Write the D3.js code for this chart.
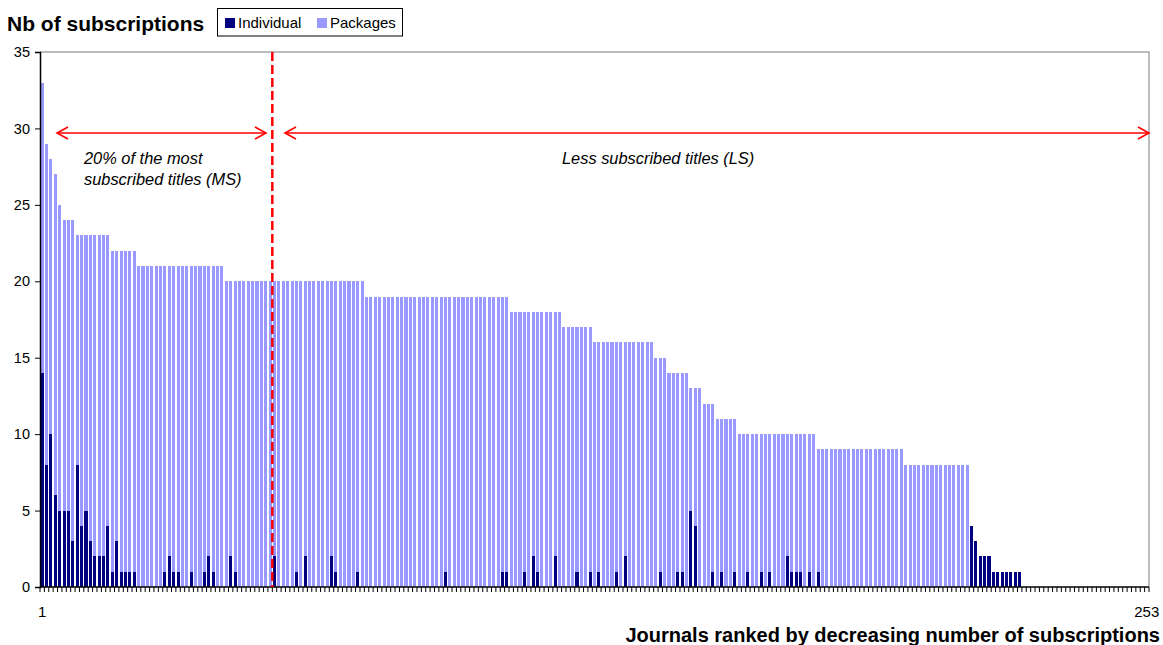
<!DOCTYPE html>
<html>
<head>
<meta charset="utf-8">
<script src="https://cdn.jsdelivr.net/npm/d3@7"></script>
<style>
  html, body { margin: 0; padding: 0; background: #fff; }
  svg { display: block; font-family: Arial, "Liberation Sans", sans-serif; }
</style>
</head>
<body>
<svg id="chart" width="1163" height="645"></svg>
<script>
// ---- DATA ----
const journalCount = 253;
const xTickLabels = ["1", "253"];
const yTicks = [0, 5, 10, 15, 20, 25, 30, 35];
const seriesNames = ["Individual", "Packages"];

const packages = [
  33, 29, 28, 27, 25, 24, 24, 24, 23, 23,
  23, 23, 23, 23, 23, 23, 22, 22, 22, 22,
  22, 22, 21, 21, 21, 21, 21, 21, 21, 21,
  21, 21, 21, 21, 21, 21, 21, 21, 21, 21,
  21, 21, 20, 20, 20, 20, 20, 20, 20, 20,
  20, 20, 20, 20, 20, 20, 20, 20, 20, 20,
  20, 20, 20, 20, 20, 20, 20, 20, 20, 20,
  20, 20, 20, 20, 19, 19, 19, 19, 19, 19,
  19, 19, 19, 19, 19, 19, 19, 19, 19, 19,
  19, 19, 19, 19, 19, 19, 19, 19, 19, 19,
  19, 19, 19, 19, 19, 19, 19, 18, 18, 18,
  18, 18, 18, 18, 18, 18, 18, 18, 18, 17,
  17, 17, 17, 17, 17, 17, 16, 16, 16, 16,
  16, 16, 16, 16, 16, 16, 16, 16, 16, 16,
  15, 15, 15, 14, 14, 14, 14, 14, 13, 13,
  13, 12, 12, 12, 11, 11, 11, 11, 11, 10,
  10, 10, 10, 10, 10, 10, 10, 10, 10, 10,
  10, 10, 10, 10, 10, 10, 10, 9, 9, 9,
  9, 9, 9, 9, 9, 9, 9, 9, 9, 9,
  9, 9, 9, 9, 9, 9, 9, 8, 8, 8,
  8, 8, 8, 8, 8, 8, 8, 8, 8, 8,
  8, 8, 0, 0, 0, 0, 0, 0, 0, 0,
  0, 0, 0, 0, 0, 0, 0, 0, 0, 0,
  0, 0, 0, 0, 0, 0, 0, 0, 0, 0,
  0, 0, 0, 0, 0, 0, 0, 0, 0, 0,
  0, 0, 0
];

const individual = [
  14, 8, 10, 6, 5, 5, 5, 3, 8, 4,
  5, 3, 2, 2, 2, 4, 1, 3, 1, 1,
  1, 1, 0, 0, 0, 0, 0, 0, 1, 2,
  1, 1, 0, 0, 1, 0, 0, 1, 2, 1,
  0, 0, 0, 2, 1, 0, 0, 0, 0, 0,
  0, 0, 0, 2, 0, 0, 0, 0, 1, 0,
  2, 0, 0, 0, 0, 0, 2, 1, 0, 0,
  0, 0, 1, 0, 0, 0, 0, 0, 0, 0,
  0, 0, 0, 0, 0, 0, 0, 0, 0, 0,
  0, 0, 1, 0, 0, 0, 0, 0, 0, 0,
  0, 0, 0, 0, 0, 1, 1, 0, 0, 0,
  1, 0, 2, 1, 0, 0, 0, 2, 0, 0,
  0, 0, 1, 0, 0, 1, 0, 1, 0, 0,
  0, 1, 0, 2, 0, 0, 0, 0, 0, 0,
  0, 1, 0, 0, 0, 1, 1, 0, 5, 4,
  0, 0, 0, 1, 0, 1, 0, 0, 1, 0,
  0, 1, 0, 0, 1, 0, 1, 0, 0, 0,
  2, 1, 1, 1, 0, 1, 0, 1, 0, 0,
  0, 0, 0, 0, 0, 0, 0, 0, 0, 0,
  0, 0, 0, 0, 0, 0, 0, 0, 0, 0,
  0, 0, 0, 0, 0, 0, 0, 0, 0, 0,
  0, 0, 4, 3, 2, 2, 2, 1, 1, 1,
  1, 1, 1, 1, 0, 0, 0, 0, 0, 0,
  0, 0, 0, 0, 0, 0, 0, 0, 0, 0,
  0, 0, 0, 0, 0, 0, 0, 0, 0, 0,
  0, 0, 0
];

// split position (first "less subscribed" rank index, 0-based)
const splitIndex = 53;
const annotationMS = ["20% of the most", "subscribed titles (MS)"];
const annotationLS = "Less subscribed titles (LS)";

// ---- LAYOUT ----
const colors = { Individual: "#000080", Packages: "#9999FF" };
const plotL = 40, plotR = 1149, plotT = 52, plotB = 587;

const svg = d3.select("#chart");
const idx = d3.range(journalCount);

const x = d3.scaleBand().domain(idx).range([plotL, plotR]).paddingInner(0.3).paddingOuter(0.15);
const y = d3.scaleLinear().domain([0, 35]).range([plotB, plotT]);

// plot frame (top + right in gray)
svg.append("path")
  .attr("d", `M${plotL},${plotT}H${plotR}V${plotB}`)
  .attr("fill", "none").attr("stroke", "#a6a6a6").attr("stroke-width", 1.5);

// Packages bars
svg.append("g").selectAll("rect").data(idx).join("rect")
  .attr("x", i => x(i)).attr("width", x.bandwidth())
  .attr("y", i => y(packages[i])).attr("height", i => y(0) - y(packages[i]))
  .attr("fill", colors.Packages).attr("shape-rendering", "crispEdges");

// Individual bars (in front)
svg.append("g").selectAll("rect").data(idx).join("rect")
  .attr("x", i => x(i)).attr("width", x.bandwidth())
  .attr("y", i => y(individual[i])).attr("height", i => y(0) - y(individual[i]))
  .attr("fill", colors.Individual).attr("shape-rendering", "crispEdges");

// Y axis
const yAxis = svg.append("g").attr("transform", `translate(${plotL},0)`)
  .call(d3.axisLeft(y).tickValues(yTicks).tickSize(5).tickPadding(5).tickFormat(d3.format("d")));
yAxis.selectAll("text").attr("font-size", 14.5).attr("fill", "#000").attr("font-family", "Arial, 'Liberation Sans', sans-serif");
yAxis.select(".domain").attr("stroke", "#000").attr("stroke-width", 1.5);
yAxis.selectAll(".tick line").attr("stroke", "#000");

// X axis: ticks at every category boundary
const xg = svg.append("g");
const boundaries = d3.range(journalCount + 1).map(i => plotL + i * (plotR - plotL) / journalCount);
xg.selectAll("line.tk").data(boundaries).join("line")
  .attr("class", "tk")
  .attr("x1", d => d).attr("x2", d => d)
  .attr("y1", plotB).attr("y2", plotB + 5)
  .attr("stroke", "#000").attr("stroke-width", 1);
xg.append("line").attr("x1", plotL).attr("x2", plotR).attr("y1", plotB).attr("y2", plotB)
  .attr("stroke", "#000").attr("stroke-width", 1.5);
xg.selectAll("text.xl").data([0, journalCount - 1]).join("text")
  .attr("class", "xl")
  .attr("x", i => x(i) + x.bandwidth() / 2).attr("y", 617)
  .attr("text-anchor", "middle").attr("font-size", 15)
  .text((i, k) => xTickLabels[k]);

// Axis titles
svg.append("text").attr("x", 7).attr("y", 31)
  .attr("font-size", 21).attr("font-weight", "bold").text("Nb of subscriptions");
svg.append("text").attr("x", 1160).attr("y", 642)
  .attr("text-anchor", "end").attr("font-size", 20).attr("font-weight", "bold")
  .text("Journals ranked by decreasing number of subscriptions");

// Legend
const lg = svg.append("g");
lg.append("rect").attr("x", 217.5).attr("y", 8.5).attr("width", 185).attr("height", 27.5)
  .attr("fill", "#fff").attr("stroke", "#000").attr("stroke-width", 1);
const legendItems = [
  { name: seriesNames[0], sx: 225, tx: 238 },
  { name: seriesNames[1], sx: 317, tx: 330 }
];
legendItems.forEach(it => {
  lg.append("rect").attr("x", it.sx).attr("y", 18).attr("width", 10).attr("height", 10)
    .attr("fill", colors[it.name]);
  lg.append("text").attr("x", it.tx).attr("y", 28).attr("font-size", 15).text(it.name);
});

// Dashed split line
const splitX = plotL + splitIndex * (plotR - plotL) / journalCount;
svg.append("line").attr("x1", splitX).attr("x2", splitX).attr("y1", plotT).attr("y2", plotB)
  .attr("stroke", "#ff0000").attr("stroke-width", 2.5).attr("stroke-dasharray", "9,4");

// Arrows
const arrowY = 133;
function dblArrow(x1, x2) {
  const g = svg.append("g").attr("stroke", "#ff0000").attr("fill", "none").attr("stroke-width", 1.6);
  g.append("line").attr("x1", x1).attr("x2", x2).attr("y1", arrowY).attr("y2", arrowY);
  g.append("path").attr("d", `M${x1 + 11},${arrowY - 6}L${x1},${arrowY}L${x1 + 11},${arrowY + 6}`);
  g.append("path").attr("d", `M${x2 - 11},${arrowY - 6}L${x2},${arrowY}L${x2 - 11},${arrowY + 6}`);
}
dblArrow(57, 266);
dblArrow(285, plotR);

// Annotation texts
const ann = svg.append("g").attr("font-size", 16.4).attr("font-style", "italic").attr("fill", "#000");
ann.append("text").attr("x", 84).attr("y", 164).text(annotationMS[0]);
ann.append("text").attr("x", 84).attr("y", 185).text(annotationMS[1]);
ann.append("text").attr("x", 562).attr("y", 164).text(annotationLS);
</script>
</body>
</html>
